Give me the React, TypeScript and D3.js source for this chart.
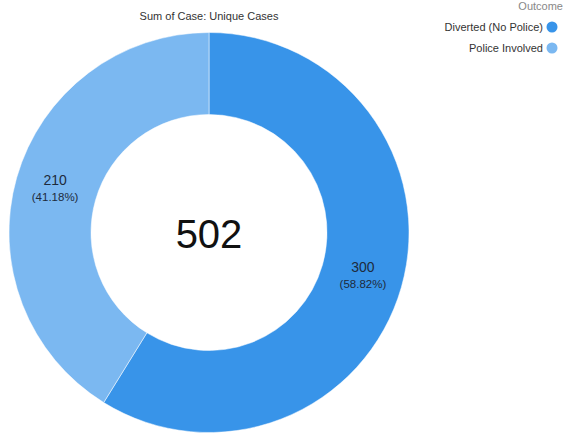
import React from "react";
import * as d3 from "d3";

const categories = ["Diverted (No Police)", "Police Involved"];
const values = [300, 210];
const colors = ["#3894E9", "#7BB8F1"];
const title = "Sum of Case: Unique Cases";
const legendTitle = "Outcome";
const totalLabel = "502";

const W = 566;
const H = 434;

export default function App() {
  const cx = 209;
  const cy = 232.5;
  const rOuter = 200;
  const rInner = 118;
  const total = d3.sum(values);
  const pie = d3.pie<number>().sort(null).value((d) => d)(values);
  const arc = d3.arc<d3.PieArcDatum<number>>().innerRadius(rInner).outerRadius(rOuter);
  const labelArc = d3.arc<d3.PieArcDatum<number>>().innerRadius(160).outerRadius(160);
  const font = "'Liberation Sans', Arial, sans-serif";
  return (
    <svg
      width={W}
      height={H}
      style={{ position: "absolute", left: 0, top: 0, background: "#fff" }}
      fontFamily={font}
    >
      <text x={cx} y={20} textAnchor="middle" fontSize={11} fill="#333">
        {title}
      </text>
      <g transform={`translate(${cx},${cy})`}>
        {pie.map((p, i) => (
          <path key={i} d={arc(p) || ""} fill={colors[i]} stroke="#fff" strokeWidth={0.5} />
        ))}
        {pie.map((p, i) => {
          const [lx, ly] = labelArc.centroid(p);
          return (
            <g key={"l" + i} transform={`translate(${lx},${ly})`}>
              <text y={-4} textAnchor="middle" fontSize={14} fill="#1e2b3c">
                {values[i]}
              </text>
              <text y={12} textAnchor="middle" fontSize={11.5} fill="#1e2b3c">
                {`(${((values[i] / total) * 100).toFixed(2)}%)`}
              </text>
            </g>
          );
        })}
        <text y={15} textAnchor="middle" fontSize={40} fill="#111">
          {totalLabel}
        </text>
      </g>
      <text x={563} y={10} textAnchor="end" fontSize={11} fill="#888">
        {legendTitle}
      </text>
      {categories.map((c, i) => (
        <g key={c} transform={`translate(0,${27 + i * 21})`}>
          <text x={543} y={4} textAnchor="end" fontSize={11} fill="#333">
            {c}
          </text>
          <circle cx={552} cy={0} r={5.5} fill={colors[i]} />
        </g>
      ))}
    </svg>
  );
}
